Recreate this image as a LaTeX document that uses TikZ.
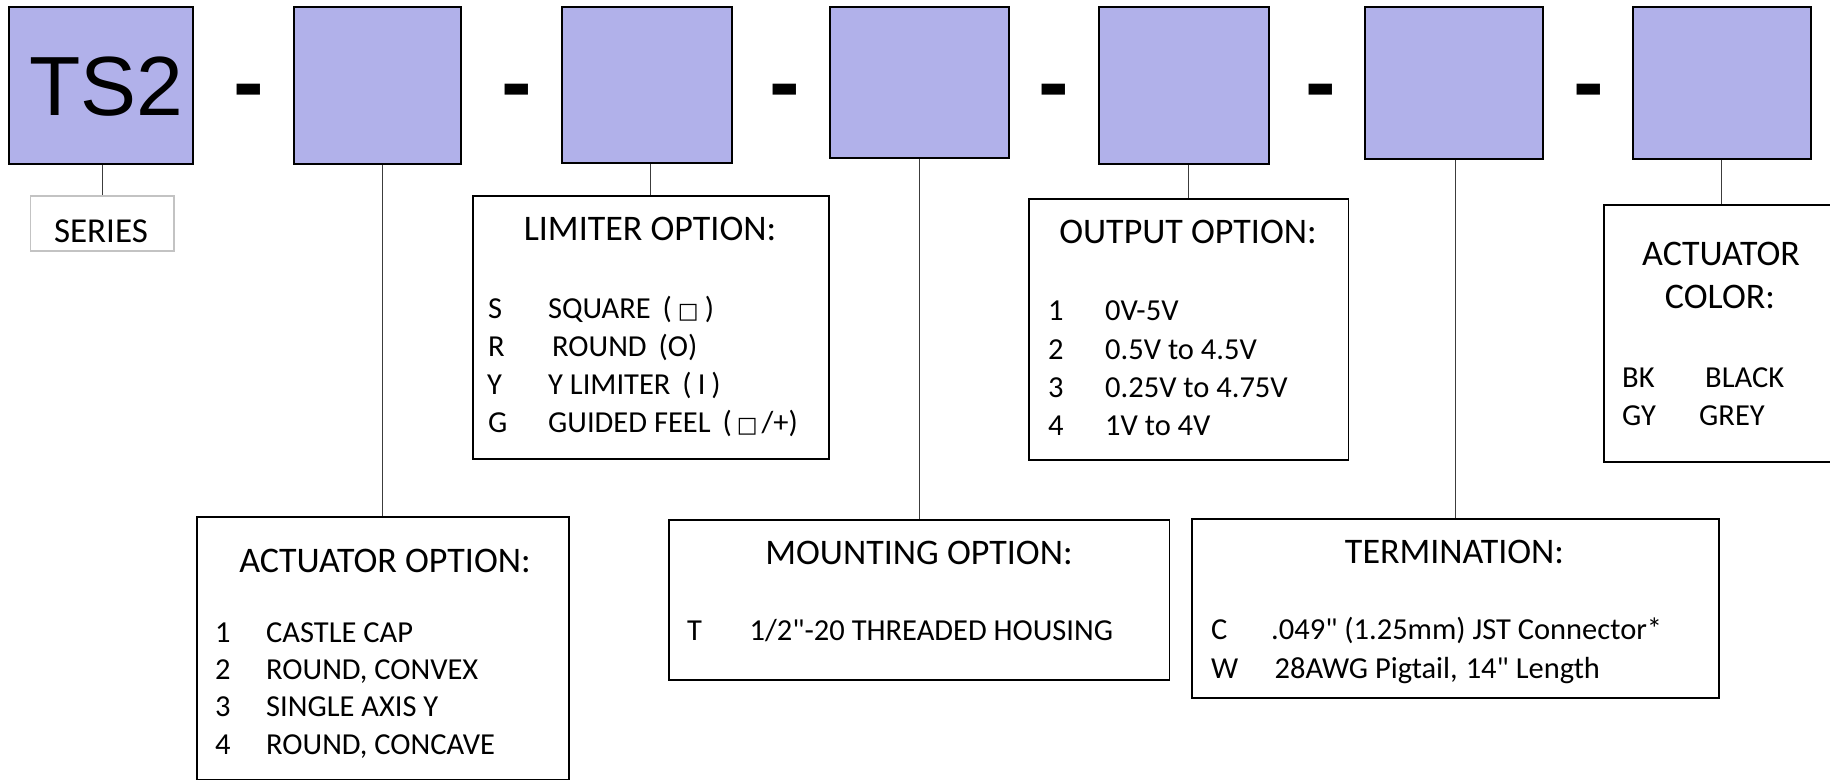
\documentclass[tikz,border=0pt]{standalone}
\usepackage{fontspec}
\setmainfont[Ligatures=TeXOff]{Carlito}
\newfontfamily\arialf{Liberation Sans}
\newfontfamily\symf{DejaVu Sans}
\definecolor{boxblue}{RGB}{177,177,234}
\definecolor{linegrey}{RGB}{60,60,60}
\definecolor{seriesgrey}{RGB}{195,195,195}
\newcommand{\sqsym}{{\symf\fontsize{22}{22}\selectfont □}}
\begin{document}
\begin{tikzpicture}[x=1pt,y=-1pt,
  codebox/.style={draw=black, line width=1.8pt, fill=boxblue, inner sep=0pt, anchor=north west},
  optbox/.style={draw=black, line width=1.6pt, inner sep=0pt, anchor=north west},
  conn/.style={draw=linegrey, line width=1.1pt},
  ttl/.style={anchor=base, inner sep=0pt, font=\fontsize{36}{40}\selectfont},
  itm/.style={anchor=base west, inner sep=0pt, font=\fontsize{30.5}{34}\selectfont},
  hyph/.style={anchor=base, inner sep=0pt, font=\arialf\bfseries\fontsize{92}{92}\selectfont}
]
\useasboundingbox (0,0) rectangle (1830,779);

% code boxes
\node[codebox, minimum width=184pt, minimum height=157pt] (ts2) at (8,6) {};
\node[codebox, minimum width=167pt, minimum height=157pt] (b2) at (293,6) {};
\node[codebox, minimum width=170pt, minimum height=156pt] (b3) at (561,6) {};
\node[codebox, minimum width=179pt, minimum height=151pt] (b4) at (829,6) {};
\node[codebox, minimum width=170pt, minimum height=157pt] (b5) at (1098,6) {};
\node[codebox, minimum width=178pt, minimum height=152pt] (b6) at (1364,6) {};
\node[codebox, minimum width=178pt, minimum height=152pt] (b7) at (1632,6) {};
\node[anchor=base, inner sep=0pt, font=\arialf\fontsize{84}{84}\selectfont] (ts2t) at (106.5,115) {TS2};

% hyphens
\node[hyph] (h1) at (249,113) {-};
\node[hyph] (h2) at (517,113) {-};
\node[hyph] (h3) at (785,113) {-};
\node[hyph] (h4) at (1053.5,113) {-};
\node[hyph] (h5) at (1321,113) {-};
\node[hyph] (h6) at (1589,113) {-};

% option boxes
\node[draw=seriesgrey, line width=1.6pt, inner sep=0pt, anchor=north west, minimum width=143.5pt, minimum height=55pt] (ser) at (29.5,195) {};
\node[anchor=base, inner sep=0pt, font=\fontsize{35}{38}\selectfont] (sert) at (101,242) {SERIES};

\node[optbox, minimum width=356pt, minimum height=263pt] (lim) at (472,195) {};
\node[optbox, minimum width=319.5pt, minimum height=261pt] (out) at (1028,198) {};
\node[optbox, minimum width=240pt, minimum height=257pt] (col) at (1603,204) {};
\node[optbox, minimum width=372pt, minimum height=262.5pt] (act) at (196,516) {};
\node[optbox, minimum width=500.5pt, minimum height=160pt] (mnt) at (668,519) {};
\node[optbox, minimum width=527pt, minimum height=179pt] (trm) at (1191,518) {};

% connectors
\draw[conn] (ser.north |- ts2.south) -- (ser.north);
\draw[conn] (act.north |- b2.south) -- (act.north);
\draw[conn] (lim.north |- b3.south) -- (lim.north);
\draw[conn] (mnt.north |- b4.south) -- (mnt.north);
\draw[conn] (out.north |- b5.south) -- (out.north);
\draw[conn] (trm.north |- b6.south) -- (trm.north);
\draw[conn] (b7.south) -- (b7.south |- col.north);

% limiter
\node[ttl] (limt) at (650,240) {LIMITER OPTION:};
\node[itm] (l1a) at (488,318) {S};
\node[itm] (l1b) at (548,318) {SQUARE\hspace{12pt}(\hspace{6pt}\sqsym\hspace{6pt})};
\node[itm] (l2a) at (488,356) {R};
\node[itm] (l2b) at (552,356) {ROUND\hspace{12pt}(O)};
\node[itm] (l3a) at (487,394) {Y};
\node[itm] (l3b) at (548,394) {Y LIMITER\hspace{12pt}(\hspace{6pt}I\hspace{6pt})};
\node[itm] (l4a) at (488,432) {G};
\node[itm] (l4b) at (548,432) {GUIDED FEEL\hspace{12pt}(\hspace{5pt}\sqsym\hspace{4pt}/+)};

% output
\node[ttl] (outt) at (1188,243) {OUTPUT OPTION:};
\node[itm] (o1a) at (1048,320) {1};
\node[itm] (o1b) at (1105,320) {0V-5V};
\node[itm] (o2a) at (1048,359) {2};
\node[itm] (o2b) at (1105,359) {0.5V to 4.5V};
\node[itm] (o3a) at (1048,397) {3};
\node[itm] (o3b) at (1105,397) {0.25V to 4.75V};
\node[itm] (o4a) at (1048,435) {4};
\node[itm] (o4b) at (1105,435) {1V to 4V};

% color
\node[ttl] (colt1) at (1721,265) {ACTUATOR};
\node[ttl] (colt2) at (1720,308) {COLOR:};
\node[itm] (c1a) at (1622,387) {BK};
\node[itm] (c1b) at (1705,387) {BLACK};
\node[itm] (c2a) at (1622,425) {GY};
\node[itm] (c2b) at (1699,425) {GREY};

% actuator
\node[ttl] (actt) at (385,572) {ACTUATOR OPTION:};
\node[itm] (a1a) at (215,642) {1};
\node[itm] (a1b) at (266,642) {CASTLE CAP};
\node[itm] (a2a) at (215,679) {2};
\node[itm] (a2b) at (266,679) {ROUND, CONVEX};
\node[itm] (a3a) at (215,716) {3};
\node[itm] (a3b) at (266,716) {SINGLE AXIS Y};
\node[itm] (a4a) at (215,754) {4};
\node[itm] (a4b) at (266,754) {ROUND, CONCAVE};

% mounting
\node[ttl] (mntt) at (919,564) {MOUNTING OPTION:};
\node[itm] (m1a) at (687,640) {T};
\node[itm] (m1b) at (749.5,640) {1/2"-20 THREADED HOUSING};

% termination
\node[ttl] (trmt) at (1454.5,563) {TERMINATION:};
\node[itm] (t1a) at (1211,639) {C};
\node[itm] (t1b) at (1271,639) {.049" (1.25mm) JST Connector*};
\node[itm] (t2a) at (1211,678) {W};
\node[itm] (t2b) at (1274.5,678) {28AWG Pigtail,\hspace{8pt}14" Length};
\end{tikzpicture}
\end{document}
